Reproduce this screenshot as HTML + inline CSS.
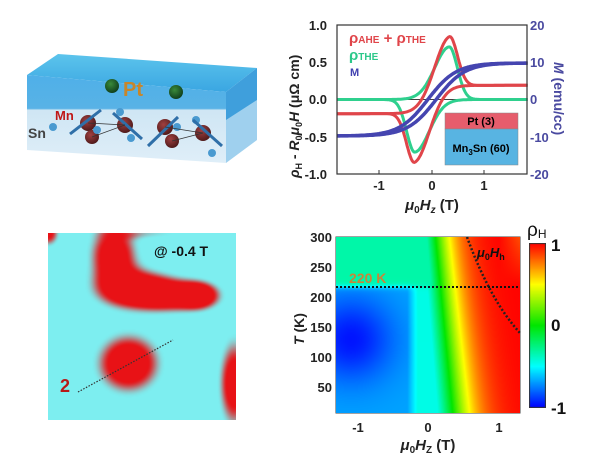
<!DOCTYPE html>
<html><head><meta charset="utf-8"><style>
body{margin:0;background:#fff;width:600px;height:469px;overflow:hidden;position:relative;font-family:"Liberation Sans",Arial,sans-serif}
canvas{position:absolute}
</style></head><body>
<svg width="600" height="469" style="position:absolute;left:0;top:0" font-family="Liberation Sans, Arial, sans-serif">
<defs>
<linearGradient id="tg" x1="0" y1="0" x2="0" y2="1"><stop offset="0" stop-color="#5cc4ec"/><stop offset="1" stop-color="#3aa6e2"/></linearGradient>
<linearGradient id="fg" x1="0" y1="0" x2="0" y2="1"><stop offset="0" stop-color="#4fb0e8"/><stop offset="0.38" stop-color="#58b2e6"/><stop offset="0.4" stop-color="#cfe6f4"/><stop offset="1" stop-color="#dfeef8"/></linearGradient>
<radialGradient id="ball" cx="0.4" cy="0.35" r="0.7"><stop offset="0" stop-color="#a04040"/><stop offset="1" stop-color="#4a1818"/></radialGradient>
<radialGradient id="gball" cx="0.4" cy="0.35" r="0.7"><stop offset="0" stop-color="#3a8a3a"/><stop offset="1" stop-color="#0d3a1a"/></radialGradient>
</defs>
<polygon points="27,75 58,54 257,68 226,92" fill="url(#tg)"/>
<polygon points="27,75 226,92 226,163 27,150" fill="url(#fg)"/>
<polygon points="226,92 257,68 257,140 226,163" fill="#9fd0ee"/>
<polygon points="226,92 257,68 257,100 226,120" fill="#3f9fdc"/>
<g fill="url(#ball)">
<circle cx="88" cy="123" r="8"/><circle cx="125" cy="125" r="8"/><circle cx="92" cy="137" r="7"/>
<circle cx="165" cy="127" r="8"/><circle cx="203" cy="133" r="8"/><circle cx="172" cy="141" r="7"/></g>
<g fill="#4a9ad0"><circle cx="53" cy="127" r="4"/><circle cx="97" cy="130" r="4"/><circle cx="131" cy="138" r="4"/><circle cx="177" cy="127" r="4"/><circle cx="212" cy="153" r="4"/><circle cx="120" cy="112" r="4"/><circle cx="196" cy="120" r="4"/></g>
<g stroke="#2f6fa8" stroke-width="3"><line x1="70" y1="134" x2="101" y2="110"/><line x1="142" y1="139" x2="113" y2="113"/><line x1="148" y1="146" x2="178" y2="117"/><line x1="222" y1="146" x2="193" y2="120"/></g>
<g stroke="#333" stroke-width="0.7"><line x1="88" y1="123" x2="125" y2="125"/><line x1="92" y1="137" x2="125" y2="125"/><line x1="165" y1="127" x2="203" y2="133"/><line x1="172" y1="141" x2="203" y2="133"/></g>
<circle cx="112" cy="86" r="7" fill="url(#gball)"/><circle cx="176" cy="92" r="7" fill="url(#gball)"/>
<text x="123" y="96" font-size="20" font-weight="bold" fill="#c8862a">Pt</text>
<text x="55" y="120" font-size="13" font-weight="bold" fill="#c01818">Mn</text>
<text x="28" y="138" font-size="14" font-weight="bold" fill="#444">Sn</text>

<line x1="337" y1="99.5" x2="527" y2="99.5" stroke="#000" stroke-width="0.8"/>
<g id="tr"></g>
<rect x="445" y="113" width="73" height="16" fill="#e65d6c" stroke="#888" stroke-width="0.5"/>
<rect x="445" y="129" width="73" height="36" fill="#58b4e2" stroke="#888" stroke-width="0.5"/>
<text x="481" y="125" font-size="11" font-weight="bold" text-anchor="middle">Pt (3)</text>
<text x="481" y="152" font-size="11" font-weight="bold" text-anchor="middle">Mn<tspan font-size="8" dy="3">3</tspan><tspan dy="-3">Sn (60)</tspan></text>
<rect x="337" y="25" width="190" height="149" fill="none" stroke="#333" stroke-width="1.2"/>
<g font-size="13" font-weight="bold" text-anchor="end" fill="#222">
<text x="327" y="30">1.0</text><text x="327" y="67">0.5</text><text x="327" y="104">0.0</text><text x="327" y="142">-0.5</text><text x="327" y="179">-1.0</text></g>
<g font-size="13" font-weight="bold" fill="#4a4aa0">
<text x="530" y="30">20</text><text x="530" y="67">10</text><text x="530" y="104">0</text><text x="530" y="142">-10</text><text x="530" y="179">-20</text>
<text transform="translate(554,62) rotate(90)" font-size="14"><tspan font-style="italic">M</tspan> (emu/cc)</text></g>
<g stroke="#333" stroke-width="1"><line x1="379" y1="174" x2="379" y2="170"/><line x1="432" y1="174" x2="432" y2="170"/><line x1="484" y1="174" x2="484" y2="170"/></g>
<g font-size="13" font-weight="bold" text-anchor="middle" fill="#222"><text x="379" y="190">-1</text><text x="432" y="190">0</text><text x="484" y="190">1</text>
<text x="432" y="210" font-size="15"><tspan font-style="italic">μ</tspan><tspan font-size="10" dy="3">0</tspan><tspan dy="-3" font-style="italic">H</tspan><tspan font-size="10" dy="3" font-style="italic">z</tspan><tspan dy="-3"> (T)</tspan></text></g>
<text transform="translate(299,178) rotate(-90)" font-size="14" font-weight="bold" fill="#222"><tspan font-style="italic">ρ</tspan><tspan font-size="9" dy="3">H</tspan><tspan dy="-3"> - </tspan><tspan font-style="italic">R</tspan><tspan font-size="9" dy="3">0</tspan><tspan dy="-3" font-style="italic">μ</tspan><tspan font-size="9" dy="3">0</tspan><tspan dy="-3" font-style="italic">H</tspan><tspan> (μΩ cm)</tspan></text>
<text x="349" y="43" font-size="15" fill="#e0454a" font-weight="bold">ρ<tspan font-size="10">AHE</tspan> + ρ<tspan font-size="10">THE</tspan></text>
<text x="349" y="60" font-size="15" fill="#2cc88a" font-weight="bold">ρ<tspan font-size="10">THE</tspan></text>
<text x="350" y="76" font-size="11" fill="#4040b0" font-weight="bold">M</text>

<rect x="336" y="237" width="184" height="176" fill="none" stroke="#444" stroke-width="1"/>
<g font-size="13" font-weight="bold" text-anchor="end" fill="#222">
<text x="332" y="242">300</text><text x="332" y="272">250</text><text x="332" y="302">200</text><text x="332" y="332">150</text><text x="332" y="362">100</text><text x="332" y="392">50</text></g>
<g font-size="13" font-weight="bold" text-anchor="middle" fill="#222"><text x="358" y="432">-1</text><text x="428" y="432">0</text><text x="499" y="432">1</text>
<text x="428" y="450" font-size="15"><tspan font-style="italic">μ</tspan><tspan font-size="10" dy="3">0</tspan><tspan dy="-3" font-style="italic">H</tspan><tspan font-size="10" dy="3">Z</tspan><tspan dy="-3"> (T)</tspan></text></g>
<text transform="translate(304,345) rotate(-90)" font-size="14" font-weight="bold" fill="#222"><tspan font-style="italic">T</tspan> (K)</text>
<g font-size="17" font-weight="bold" fill="#111"><text x="551" y="251">1</text><text x="551" y="331">0</text><text x="551" y="414">-1</text></g>
<text x="527" y="236" font-size="19" fill="#111">ρ<tspan font-size="12" dy="2">H</tspan></text>
</svg>
<canvas id="c1" width="184" height="176" style="left:336px;top:237px"></canvas>
<canvas id="c2" width="17" height="165" style="left:529px;top:243px"></canvas>
<canvas id="c3" width="188" height="187" style="left:48px;top:233px"></canvas>
<svg width="600" height="469" style="position:absolute;left:0;top:0" font-family="Liberation Sans, Arial, sans-serif">
<line x1="336" y1="287" x2="520" y2="287" stroke="#111" stroke-width="2" stroke-dasharray="2,2"/>
<path d="M467,237 Q490,300 520,333" fill="none" stroke="#222" stroke-width="2.5" stroke-dasharray="2,2"/>
<text x="349" y="283" font-size="14" font-weight="bold" fill="#c8863a">220 K</text>
<text x="477" y="257" font-size="13" font-weight="bold" fill="#111"><tspan font-style="italic">μ</tspan><tspan font-size="9" dy="3">0</tspan><tspan dy="-3" font-style="italic">H</tspan><tspan font-size="9" dy="3">h</tspan></text>
<line x1="78" y1="392" x2="173" y2="340" stroke="#333" stroke-width="1.2" stroke-dasharray="1.5,1.5"/>
<text x="60" y="392" font-size="18" font-weight="bold" fill="#b81818">2</text>
<text x="154" y="256" font-size="14" font-weight="bold" fill="#111">@ -0.4 T</text>
</svg>
<script>
(function(){
var S=[[-1,[0,0,255]],[-0.5,[0,255,255]],[0,[0,230,0]],[0.5,[255,255,0]],[1,[255,0,0]]];
function jet(v){v=Math.max(-1,Math.min(1,v));for(var j=0;j<4;j++){if(v<=S[j+1][0]){var a=S[j],b=S[j+1],f=(v-a[0])/(b[0]-a[0]);return [a[1][0]+(b[1][0]-a[1][0])*f,a[1][1]+(b[1][1]-a[1][1])*f,a[1][2]+(b[1][2]-a[1][2])*f]}}return [255,0,0]}
var g=document.getElementById('tr'),ns='http://www.w3.org/2000/svg';
function X(h){return 432+52*h}function Y(v){return 99.5-74.5*v}
function th(h){return h<0.33?0.72*Math.exp(-Math.pow((h-0.33)/0.42,2)):0.72*Math.exp(-Math.pow((h-0.33)/0.22,2))}
function poly(f,col,w){var p='';for(var h=-1.82;h<=1.86;h+=0.02){p+=X(h).toFixed(1)+','+Y(Math.max(-1,Math.min(1,f(h)))).toFixed(1)+' '}
var e=document.createElementNS(ns,'polyline');e.setAttribute('points',p);e.setAttribute('fill','none');e.setAttribute('stroke',col);e.setAttribute('stroke-width',w);g.appendChild(e)}
poly(function(h){return th(h)-0.04*Math.exp(-h*h/0.1)},'#2fd08e',3);
poly(function(h){return -th(-h)+0.04*Math.exp(-h*h/0.1)},'#2fd08e',3);
poly(function(h){return th(h)+0.19*Math.tanh((h-0.1)/0.3)},'#e0454a',3);
poly(function(h){return -th(-h)+0.19*Math.tanh((h+0.1)/0.3)},'#e0454a',3);
poly(function(h){return 0.49*Math.tanh((h-0.08)/0.55)},'#4545b0',3.5);
poly(function(h){return 0.49*Math.tanh((h+0.08)/0.55)},'#4545b0',3.5);
var ctx=document.getElementById('c1').getContext('2d'),im=ctx.createImageData(184,176);
for(var y=0;y<176;y++)for(var x=0;x<184;x++){var H=(x-92)/70.5,T=300-y/0.6;
var k=(300-T)/300,cc=0.1+0.25*k,w=0.36+0.08*k;var v=Math.tanh((H-cc)/w);
var sm=1/(1+Math.exp((T-218)/2.5));
var hi=Math.max(v,-0.33);
var fl=-0.68-0.28*Math.exp(-Math.pow((T-130)/70,2))*Math.exp(-Math.pow((H+1.1)/0.6,2));
var vm=Math.max(v,-0.45),low;
if(H<-0.3) low=fl; else if(H<-0.15) low=fl+(vm-fl)*(H+0.3)/0.15; else low=vm;
var vv=hi*(1-sm)+low*sm; if(T>220&&H>1.0) vv-=0.15*(H-1.0)/0.3*(T-220)/80;
var col=jet(vv),i=(y*184+x)*4;im.data[i]=col[0];im.data[i+1]=col[1];im.data[i+2]=col[2];im.data[i+3]=255}
ctx.putImageData(im,0,0);
var c2=document.getElementById('c2').getContext('2d');
for(var y=0;y<165;y++){var col=jet(1-2*y/164);c2.fillStyle='rgb('+col.map(Math.round).join(',')+')';c2.fillRect(0,y,17,1)}
c2.strokeStyle='#333';c2.strokeRect(0.5,0.5,16,164);
var c3=document.getElementById('c3').getContext('2d'),im3=c3.createImageData(188,187);
var B=[[65,22,22,30,1],[85,55,35,18,1],[122,62,38,15,1],[150,62,18,12,0.9],[80,130,28,26,1.2],[186,150,14,40,1],[0,0,10,12,0.8],[100,0,40,6,0.3]];
for(var y=0;y<187;y++)for(var x=0;x<188;x++){var s=0;for(var j=0;j<B.length;j++){var b=B[j];var d=Math.pow((x-b[0])/b[2],2)+Math.pow((y-b[1])/b[3],2);s+=b[4]*Math.exp(-d)}
var t=Math.max(0,Math.min(1,(s-0.2)/0.55));t=t*t*(3-2*t);var i=(y*188+x)*4;
var base=[125,238,240];var red=[232,18,22];
im3.data[i]=base[0]+(red[0]-base[0])*t;im3.data[i+1]=base[1]+(red[1]-base[1])*t;im3.data[i+2]=base[2]+(red[2]-base[2])*t;im3.data[i+3]=255}
c3.putImageData(im3,0,0);
})();
</script>
</body></html>
